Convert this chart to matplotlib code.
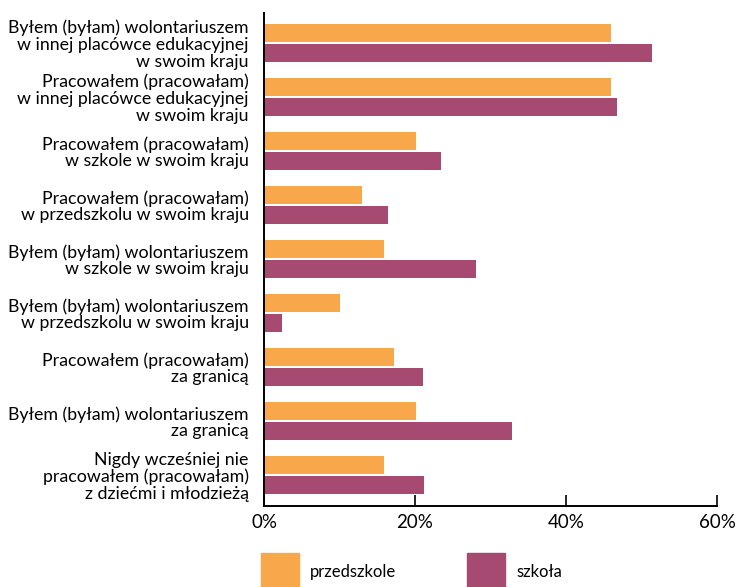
import numpy as np
import matplotlib.pyplot as plt
from matplotlib.patches import Rectangle

plt.rcParams['font.family'] = ['Lato', 'DejaVu Sans']

categories = [
    'Byłem (byłam) wolontariuszem\nw innej placówce edukacyjnej\nw swoim kraju',
    'Pracowałem (pracowałam)\nw innej placówce edukacyjnej\nw swoim kraju',
    'Pracowałem (pracowałam)\nw szkole w swoim kraju',
    'Pracowałem (pracowałam)\nw przedszkolu w swoim kraju',
    'Byłem (byłam) wolontariuszem\nw szkole w swoim kraju',
    'Byłem (byłam) wolontariuszem\nw przedszkolu w swoim kraju',
    'Pracowałem (pracowałam)\nza granicą',
    'Byłem (byłam) wolontariuszem\nza granicą',
    'Nigdy wcześniej nie\npracowałem (pracowałam)\nz dziećmi i młodzieżą',
]
przedszkole = [46.0, 46.0, 20.1, 13.0, 15.9, 10.1, 17.2, 20.1, 15.9]
szkola = [51.4, 46.8, 23.4, 16.4, 28.1, 2.4, 21.1, 32.8, 21.2]
series_names = ['przedszkole', 'szkoła']
colors = ['#F9A74B', '#A64A72']

W, H = 744, 587
fig = plt.figure(figsize=(W / 100, H / 100), dpi=100)
ax = fig.add_axes([264 / W, 1 - 506 / H, (717 - 264) / W, (506 - 13) / H])

y = np.arange(len(categories))
h = 18 / 54
off = 10 / 54
ax.barh(y - off, przedszkole, height=h, color=colors[0])
ax.barh(y + off, szkola, height=h, color=colors[1])

ax.set_ylim(8 + 31 / 54, -30 / 54)
ax.set_xlim(0, 60)
ax.set_xticks([0, 20, 40, 60])
ax.set_xticklabels(['0%', '20%', '40%', '60%'], fontsize=13.5)
ax.set_yticks(y)
ax.set_yticklabels(categories, fontsize=12.8, linespacing=1.05)
ax.tick_params(axis='y', length=0, pad=11)
ax.tick_params(axis='x', direction='in', length=8, width=1.2, pad=6)
for s in ['top', 'right']:
    ax.spines[s].set_visible(False)
for s in ['left', 'bottom']:
    ax.spines[s].set_linewidth(1.4)

# legend below the chart
legend_x = [261, 467]
for name, c, lx in zip(series_names, colors, legend_x):
    fig.add_artist(Rectangle((lx / W, 0), 38 / W, (587 - 553) / H,
                             transform=fig.transFigure, color=c))
    fig.text((lx + 49) / W, 1 - 572 / H, name, fontsize=12, va='center')

fig.savefig('out.png', dpi=100)
